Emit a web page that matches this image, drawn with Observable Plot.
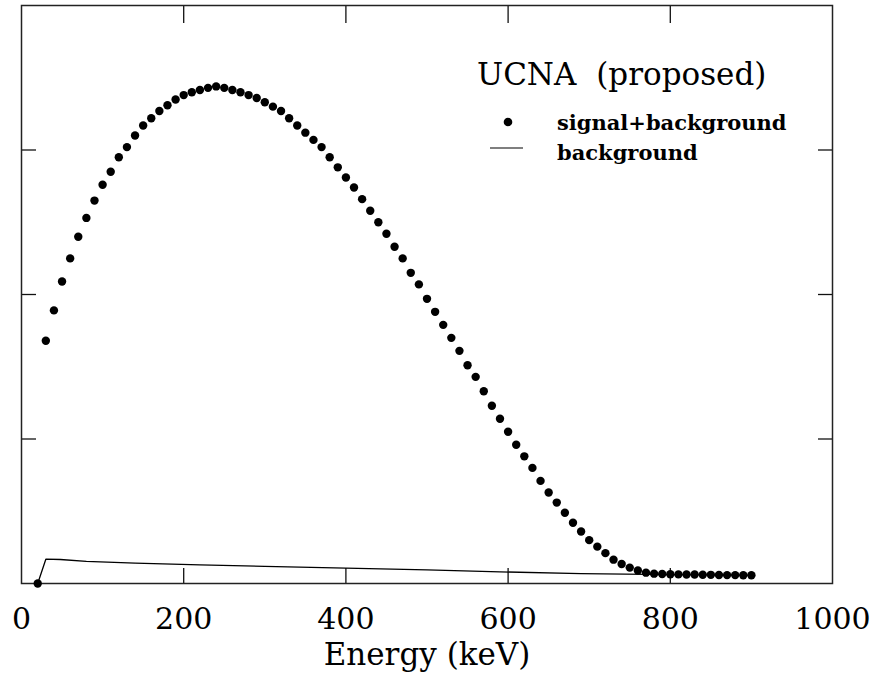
<!DOCTYPE html>
<html><head><meta charset="utf-8">
<script src="https://cdn.jsdelivr.net/npm/d3@7"></script>
<script src="https://cdn.jsdelivr.net/npm/@observablehq/plot@0.6"></script>
<style>
html,body{margin:0;padding:0;background:#fff;}
#chart svg{display:block;}
g[aria-label="xlabel"] text{word-spacing:12px;}
</style>
</head><body><div id="chart"></div>
<script>
// Energy bins (keV) of the signal+background points
const energy = [20,30,40,50,60,70,80,90,100,110,120,130,140,150,160,170,180,190,200,
  210,220,230,240,250,260,270,280,290,300,310,320,330,340,350,360,370,380,390,400,
  410,420,430,440,450,460,470,480,490,500,510,520,530,540,550,560,570,580,590,600,
  610,620,630,640,650,660,670,680,690,700,710,720,730,740,750,760,770,780,790,800,
  810,820,830,840,850,860,870,880,890,900];
// signal+background (arbitrary units)
const signalBg = [0.00,1.68,1.89,2.09,2.25,2.40,2.53,2.65,2.76,2.85,2.95,3.02,3.10,3.17,3.22,3.27,3.31,3.35,3.38,
  3.40,3.415,3.43,3.44,3.43,3.415,3.40,3.38,3.36,3.33,3.30,3.27,3.22,3.17,3.12,3.07,3.02,2.95,2.88,2.81,
  2.74,2.66,2.58,2.50,2.42,2.33,2.25,2.15,2.07,1.97,1.88,1.79,1.70,1.61,1.51,1.43,1.33,1.23,1.14,1.05,
  0.96,0.88,0.80,0.71,0.63,0.56,0.49,0.42,0.36,0.30,0.255,0.21,0.165,0.135,0.11,0.09,0.075,0.068,0.066,0.064,
  0.063,0.062,0.062,0.061,0.060,0.059,0.058,0.058,0.057,0.057];
// background line
const bgEnergy = [20,30,48,80,140,220,300,400,500,590,690,800,900];
const bgValue  = [0.00,0.168,0.166,0.153,0.141,0.129,0.119,0.107,0.094,0.081,0.068,0.062,0.058];

const xTickLabels = [0,200,400,600,800,1000];
const xInnerTicks = [200,400,600,800];
const yInnerTicks = [1,2,3];
const titleText = "UCNA (proposed)";
const legendLabels = ["signal+background","background"];
const xLabel = "Energy (keV)";

const points = energy.map((e,i)=>({e, v: signalBg[i]}));
const bg = bgEnergy.map((e,i)=>({e, v: bgValue[i]}));

function legend(index, scales, values, dims) {
  const g = d3.create("svg:g").attr("fill","#000").attr("text-anchor","start");
  const right = dims.width - dims.marginRight; // 832
  g.append("text").attr("x", right-355).attr("y", 85).attr("font-size", 31)
    .style("word-spacing","10px").text(titleText);
  g.append("circle").attr("cx", right-324).attr("cy", 122).attr("r", 4.3);
  g.append("text").attr("x", right-275).attr("y", 130).attr("font-size", 21)
    .attr("font-weight","bold").text(legendLabels[0]);
  g.append("line").attr("x1", right-342).attr("x2", right-309).attr("y1",148).attr("y2",148)
    .attr("stroke","#000").attr("stroke-width",1.2);
  g.append("text").attr("x", right-275).attr("y", 160).attr("font-size", 21)
    .attr("font-weight","bold").text(legendLabels[1]);
  return g.node();
}

const plot = Plot.plot({
  width: 873, height: 673,
  marginLeft: 21, marginRight: 41, marginTop: 5, marginBottom: 90,
  style: {fontFamily: "'DejaVu Serif', serif", background: "#fff", color: "#111"},
  x: {domain: [0, 1000]},
  y: {domain: [0, 4]},
  marks: [
    Plot.axisX({anchor: "bottom", ticks: xTickLabels, tickSize: 0, tickPadding: 24, fontSize: 30, label: null, fill: "#000", tickFormat: d => String(d)}),
    Plot.axisX({anchor: "bottom", ticks: xInnerTicks, tickSize: -15, fill: "none", label: null, strokeWidth: 1.3}),
    Plot.axisX({anchor: "top", ticks: xInnerTicks, tickSize: -17, fill: "none", label: null, strokeWidth: 1.3}),
    Plot.axisY({anchor: "left", ticks: yInnerTicks, tickSize: -15, fill: "none", label: null, strokeWidth: 1.3}),
    Plot.axisY({anchor: "right", ticks: yInnerTicks, tickSize: -15, fill: "none", label: null, strokeWidth: 1.3}),
    Plot.frame({stroke: "#222", strokeWidth: 1.5}),
    Plot.line(bg, {x: "e", y: "v", stroke: "#000", strokeWidth: 1.3}),
    Plot.dot(points, {x: "e", y: "v", r: 4.2, fill: "#000", stroke: null}),
    Plot.text([xLabel], {frameAnchor: "bottom", dy: 59, lineAnchor: "top", fontSize: 31, fill: "#000", ariaLabel: "xlabel"}),
    legend
  ]
});
document.getElementById("chart").appendChild(plot);
</script>
</body></html>
